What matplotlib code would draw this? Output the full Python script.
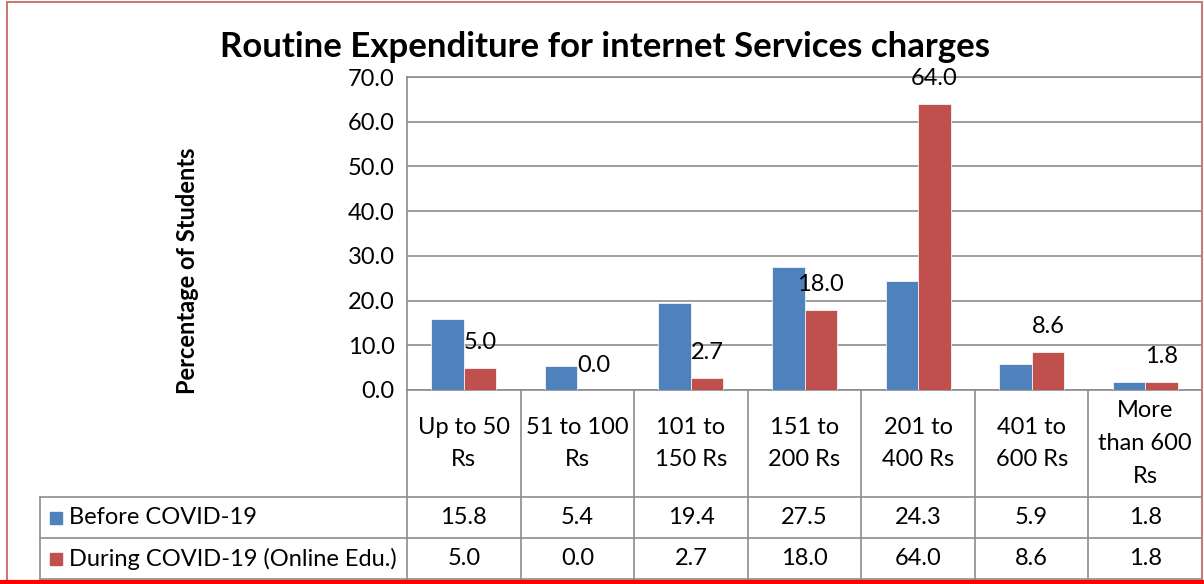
import matplotlib
matplotlib.use('Agg')
from matplotlib import pyplot as plt
from matplotlib.lines import Line2D
from matplotlib.patches import Rectangle
from matplotlib.ticker import FormatStrFormatter

plt.rcParams['font.family'] = ['Lato', 'DejaVu Sans']

categories = ['Up to 50\nRs', '51 to 100\nRs', '101 to\n150 Rs', '151 to\n200 Rs',
              '201 to\n400 Rs', '401 to\n600 Rs', 'More\nthan 600\nRs']
series_names = ['Before COVID-19', 'During COVID-19 (Online Edu.)']
before = [15.8, 5.4, 19.4, 27.5, 24.3, 5.9, 1.8]
during = [5.0, 0.0, 2.7, 18.0, 64.0, 8.6, 1.8]
colors = ['#4F81BD', '#C0504D']

W, H = 1204, 584
fig = plt.figure(figsize=(W / 100, H / 100), dpi=100)


def fx(px):
    return px / W


def fy(py):
    return 1 - py / H


grid_color = '#8C8C8C'
fs = 17
ax = fig.add_axes([fx(407), fy(390), fx(1202) - fx(407), fy(77) - fy(390)])

n = len(categories)
x = list(range(n))
bw = 0.286
ax.bar([i - bw / 2 for i in x], before, bw, color=colors[0], edgecolor='white', linewidth=0.5, zorder=3)
ax.bar([i + bw / 2 for i in x], during, bw, color=colors[1], edgecolor='white', linewidth=0.5, zorder=3)

for i, v in enumerate(during):
    ax.annotate(f'{v:.1f}', (i + bw / 2, v), xytext=(0, 18), textcoords='offset points',
                ha='center', va='center', fontsize=fs)

ax.set_xlim(-0.5, n - 0.5)
ax.set_ylim(0, 70)
ax.set_yticks(range(0, 71, 10))
ax.yaxis.set_major_formatter(FormatStrFormatter('%.1f'))
ax.tick_params(axis='y', length=0, pad=9, labelsize=fs)
ax.set_xticks([])
ax.grid(axis='y', color=grid_color, linewidth=1.2, zorder=0)
for s in ax.spines.values():
    s.set_color(grid_color)
    s.set_linewidth(1.2)

ax.set_ylabel('Percentage of Students', fontsize=17, fontweight='bold', labelpad=0)
ax.yaxis.set_label_coords(fx(199 - 407) / (fx(1202) - fx(407)), 0.38)

fig.text(fx(605), fy(47), 'Routine Expenditure for internet Services charges',
         ha='center', va='center', fontsize=25, fontweight='bold')

# data table below the plot
tr = ax.get_xaxis_transform()
row_y = [fy(390), fy(497), fy(538), fy(579)]


def ay(fig_y):
    return (fig_y - fy(390)) / (fy(77) - fy(390))


lw = 1.2
for i in range(n + 1):
    ax.add_line(Line2D([i - 0.5, i - 0.5], [ay(row_y[0]), ay(row_y[3])], transform=tr,
                       color=grid_color, linewidth=lw, clip_on=False))
for yy in row_y[1:]:
    fig.add_artist(Line2D([fx(40), fx(1202)], [yy, yy], color=grid_color, linewidth=lw))
fig.add_artist(Line2D([fx(40), fx(40)], [row_y[1], row_y[3]], color=grid_color, linewidth=lw))

for i, c in enumerate(categories):
    ax.text(i, ay((row_y[0] + row_y[1]) / 2), c, transform=tr, ha='center', va='center',
            fontsize=fs, linespacing=1.7)
for r, (name, vals) in enumerate(zip(series_names, [before, during])):
    yc = (row_y[r + 1] + row_y[r + 2]) / 2
    fig.add_artist(Rectangle((fx(50), yc - fy(0) + fy(6)), fx(12), fy(0) - fy(12),
                             color=colors[r], transform=fig.transFigure))
    fig.text(fx(69), yc, name, ha='left', va='center', fontsize=fs)
    for i, v in enumerate(vals):
        ax.text(i, ay(yc), f'{v:.1f}', transform=tr, ha='center', va='center', fontsize=fs)

# chart border
fig.add_artist(Rectangle((fx(7), fy(581)), fx(1202) - fx(7), fy(2) - fy(581), fill=False,
                         edgecolor='#C77A78', linewidth=1.5, transform=fig.transFigure))
fig.add_artist(Line2D([0, 1], [fy(581.5), fy(581.5)], color='#FF0000', linewidth=3))

fig.savefig('out.png', dpi=100)
